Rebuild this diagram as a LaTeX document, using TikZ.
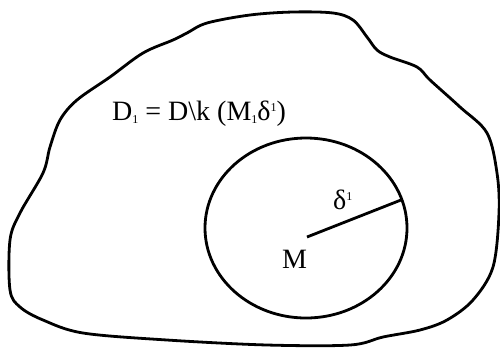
\documentclass[tikz,border=0pt]{standalone}
\usepackage{fontspec}
\setmainfont{Liberation Serif}
\newcommand{\lowone}{\raisebox{-3pt}{\fontsize{12}{12}\selectfont 1}}
\newcommand{\highone}{\raisebox{9pt}{\fontsize{12}{12}\selectfont 1}}
\begin{document}
\begin{tikzpicture}[x=1pt,y=-1pt,
  outline/.style={line width=2.8pt,line join=round},
  lbl/.style={font=\fontsize{28}{30}\selectfont,inner sep=0pt}]
\useasboundingbox (0,0) rectangle (500,349);
\draw[outline] plot[smooth cycle,tension=0.55] coordinates {
 (207,23) (187,33) (173,40) (143,53) (110,77) (77,100) (60,120) (50,147)
 (43,173) (20,213) (10,240) (10,290) (20,307) (43,320) (83,333) (167,340)
 (267,345) (350,345) (383,337) (420,330) (447,320) (473,300) (493,267)
 (499,213) (497,173) (487,133) (460,107) (430,80) (417,67) (390,57)
 (377,50) (367,37) (353,20) (333,13) (293,12) (250,15)};
\draw[outline] (306,228) ellipse [x radius=101,y radius=90];
\coordinate (M) at (307,237);
\coordinate (R) at (401,200);
\draw[outline] (M) -- (R);
\node[lbl,anchor=base west] (eq) at (112,120) {D\lowone{} = D\textbackslash k (M\lowone δ\highone)};
\node[lbl,anchor=base west] (delta) at (333,209) {δ\highone};
\node[lbl,anchor=base west] (mlabel) at (282,268) {M};
\end{tikzpicture}
\end{document}
